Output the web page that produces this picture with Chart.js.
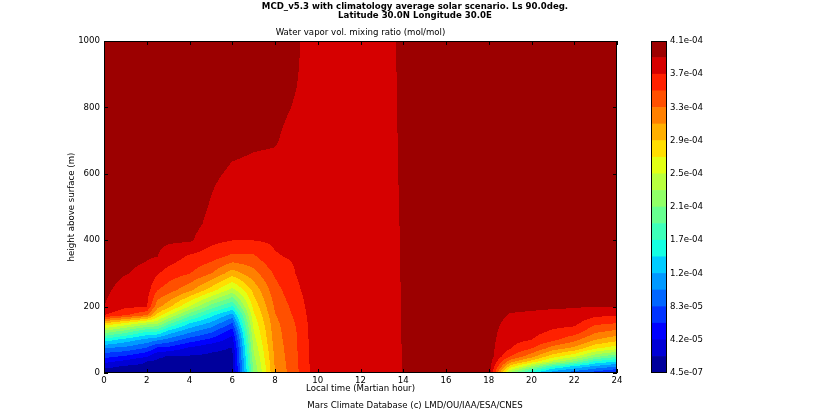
<!DOCTYPE html>
<html>
<head>
<meta charset="utf-8">
<script src="https://cdn.jsdelivr.net/npm/chart.js@4.4.1/dist/chart.umd.min.js"></script>
<style>
  body { margin: 0; background: #fff; }
  #wrap { position: relative; width: 830px; height: 415px; }
  #wrap canvas { position: absolute; left: 0; top: 0; }
</style>
</head>
<body>
<div id="wrap">
  <canvas id="field" width="830" height="415"></canvas>
  <canvas id="cbar" width="830" height="415"></canvas>
</div>
<script>
const titleLines = ['MCD_v5.3 with climatology average solar scenario. Ls 90.0deg.', 'Latitude 30.0N Longitude 30.0E'];
const subtitle = 'Water vapor vol. mixing ratio (mol/mol)';
const footer = 'Mars Climate Database (c) LMD/OU/IAA/ESA/CNES';

// local time (Martian hour) of each profile
const localTimes = [0, 1, 2, 2.5, 3, 4, 5, 6, 7, 8, 9, 10, 11, 12, 13, 14, 15, 16, 17, 18, 19, 20, 21, 22, 23, 24];
// height above surface (m)
const heights = [0, 10, 20, 35, 50, 75, 100, 125, 150, 175, 200, 250, 300, 350, 400, 450, 500, 600, 700, 800, 900, 1000];

// water vapour mixing ratio in ppmv (1e-6 mol/mol), one profile per local time
const waterVapor = [
  [6.7, 16.4, 27.9, 48.6, 69.3, 103.9, 156.8, 220.3, 290.0, 373.0, 393.6, 397.5, 401.6, 403.7, 405.8, 405.8, 405.8, 405.8, 405.8, 405.8, 405.8, 405.8],
  [8.7, 13.7, 18.6, 36.4, 59.4, 97.6, 136.1, 197.5, 266.6, 355.5, 376.4, 385.9, 394.2, 397.5, 401.6, 402.7, 403.7, 405.8, 405.8, 405.8, 405.8, 405.8],
  [10.8, 13.7, 16.8, 21.1, 43.7, 81.1, 118.3, 165.9, 239.7, 334.8, 374.8, 381.8, 389.0, 395.0, 399.2, 402.7, 403.7, 405.8, 405.8, 405.8, 405.8, 405.8],
  [10.8, 12.9, 15.1, 18.2, 23.8, 58.4, 108.0, 165.9, 232.1, 283.8, 317.9, 352.8, 374.5, 393.6, 397.5, 401.6, 403.1, 405.8, 405.8, 405.8, 405.8, 405.8],
  [10.8, 12.6, 14.7, 17.4, 20.3, 55.9, 97.2, 138.6, 194.4, 252.7, 297.4, 341.7, 363.8, 384.7, 396.3, 400.0, 402.0, 404.7, 405.8, 405.8, 405.8, 405.8],
  [10.8, 12.4, 14.1, 16.6, 19.1, 38.3, 73.9, 109.6, 145.2, 196.1, 247.0, 316.9, 353.0, 369.2, 396.5, 401.6, 402.7, 403.7, 405.8, 405.8, 405.8, 405.8],
  [10.8, 12.2, 13.7, 15.8, 18.0, 24.9, 56.7, 88.3, 120.2, 153.9, 197.7, 280.2, 332.2, 361.1, 378.9, 388.2, 391.9, 396.5, 401.6, 403.7, 403.7, 403.7],
  [10.8, 12.0, 13.3, 15.3, 17.2, 20.5, 32.9, 51.7, 81.7, 116.3, 163.8, 240.3, 299.3, 347.0, 373.0, 377.2, 381.8, 390.9, 397.5, 400.6, 402.7, 403.7],
  [207.3, 210.6, 213.6, 218.6, 223.4, 231.4, 239.5, 247.6, 255.6, 265.1, 275.5, 296.2, 323.9, 348.5, 373.1, 377.2, 381.4, 389.6, 395.4, 399.6, 400.6, 401.6],
  [310.7, 311.7, 312.5, 314.0, 315.4, 317.9, 320.4, 322.6, 325.1, 329.9, 334.6, 344.4, 355.1, 371.0, 375.8, 379.1, 382.6, 389.2, 394.4, 396.7, 399.2, 401.6],
  [347.9, 348.1, 348.5, 349.0, 349.4, 350.2, 351.0, 351.8, 354.1, 357.8, 361.3, 368.3, 373.5, 375.4, 377.2, 379.1, 381.0, 384.7, 388.4, 392.3, 394.2, 395.4],
  [385.1, 386.1, 387.2, 388.2, 389.2, 389.2, 389.2, 389.2, 389.2, 389.2, 389.2, 389.2, 389.2, 388.2, 387.2, 387.2, 387.2, 386.1, 385.1, 385.1, 385.1, 385.1],
  [383.0, 383.0, 383.0, 383.0, 383.0, 383.0, 383.0, 383.0, 383.0, 383.0, 383.0, 383.0, 383.0, 383.0, 383.0, 383.0, 383.0, 383.0, 383.0, 383.0, 383.0, 383.0],
  [383.0, 383.0, 383.0, 383.0, 383.0, 383.0, 383.0, 383.0, 383.0, 383.0, 383.0, 383.0, 383.0, 383.0, 383.0, 383.0, 383.0, 383.0, 383.0, 383.0, 383.0, 383.0],
  [383.0, 383.0, 383.0, 383.0, 383.0, 383.0, 383.0, 383.0, 383.0, 383.0, 383.0, 383.0, 383.0, 383.0, 383.0, 383.0, 383.0, 383.0, 383.0, 383.0, 383.0, 383.0],
  [394.0, 394.0, 394.0, 394.2, 394.2, 394.2, 394.4, 394.4, 394.4, 394.6, 394.6, 394.8, 395.0, 395.2, 395.4, 395.6, 396.0, 396.5, 397.1, 397.5, 398.1, 398.8],
  [403.7, 403.7, 403.7, 403.7, 403.7, 403.7, 403.7, 403.7, 403.7, 403.7, 403.7, 403.7, 403.7, 403.7, 403.7, 403.7, 403.7, 403.7, 403.7, 403.7, 403.7, 403.7],
  [403.7, 403.7, 403.7, 403.7, 403.7, 403.7, 403.7, 403.7, 403.7, 403.7, 403.7, 403.7, 403.7, 403.7, 403.7, 403.7, 403.7, 403.7, 403.7, 403.7, 403.7, 403.7],
  [403.7, 403.7, 403.7, 403.7, 403.7, 403.7, 403.7, 403.7, 403.7, 403.7, 403.7, 403.7, 403.7, 403.7, 403.7, 403.7, 403.7, 403.7, 403.7, 403.7, 403.7, 403.7],
  [409.9, 405.8, 405.8, 405.8, 405.8, 400.6, 400.6, 400.6, 400.6, 400.6, 400.6, 403.7, 403.7, 403.7, 403.7, 403.7, 403.7, 403.7, 403.7, 403.7, 403.7, 403.7],
  [217.6, 252.1, 283.2, 321.0, 352.0, 374.5, 378.9, 383.4, 388.0, 392.5, 396.3, 403.7, 403.7, 403.7, 403.7, 403.7, 403.7, 403.7, 403.7, 403.7, 403.7, 403.7],
  [145.2, 186.6, 227.9, 283.2, 318.5, 353.7, 373.1, 379.1, 385.1, 391.1, 395.9, 403.7, 403.7, 403.7, 403.7, 403.7, 403.7, 403.7, 403.7, 403.7, 403.7, 403.7],
  [114.2, 134.9, 171.1, 241.8, 278.2, 322.6, 357.2, 370.2, 379.7, 388.8, 395.4, 403.7, 403.7, 403.7, 403.7, 403.7, 403.7, 403.7, 403.7, 403.7, 403.7, 403.7],
  [89.4, 114.8, 140.0, 207.3, 253.8, 305.3, 337.7, 364.0, 378.1, 387.2, 394.8, 403.7, 403.7, 403.7, 403.7, 403.7, 403.7, 403.7, 403.7, 403.7, 403.7, 403.7],
  [70.8, 95.6, 120.4, 162.4, 212.4, 273.6, 310.7, 335.5, 356.6, 377.7, 393.8, 402.0, 403.7, 403.7, 403.7, 403.7, 403.7, 403.7, 403.7, 403.7, 403.7, 403.7],
  [52.1, 78.8, 105.3, 145.2, 191.7, 256.9, 296.8, 326.2, 352.0, 375.0, 393.6, 402.0, 403.7, 403.7, 403.7, 403.7, 403.7, 403.7, 403.7, 403.7, 403.7, 403.7]
];

// colour bar: 20 filled levels between these bounds (ppmv)
const levelMin = 0.45;
const levelMax = 414.05;
const cbarLabels = ['4.5e-07', '4.2e-05', '8.3e-05', '1.2e-04', '1.7e-04', '2.1e-04', '2.5e-04', '2.9e-04', '3.3e-04', '3.7e-04', '4.1e-04'];
const bandColors = ['#00009c', '#0000d6', '#0000ff', '#0033ff', '#0066ff', '#0099ff', '#00ccff', '#14ffe2', '#3effb9', '#67ff90',
                    '#90ff67', '#b9ff3e', '#e2ff14', '#ffde00', '#ffaf00', '#ff8000', '#ff5000', '#ff2100', '#d60000', '#9c0000'];

const nBands = bandColors.length;
const levelStep = (levelMax - levelMin) / nBands;
const levels = [];
for (let i = 0; i <= nBands; i++) levels.push(levelMin + i * levelStep);

const FONT = 'DejaVu Sans';
const FSIZE = 8.6;
const rgb = bandColors.map(c => [parseInt(c.slice(1, 3), 16), parseInt(c.slice(3, 5), 16), parseInt(c.slice(5, 7), 16)]);

function locate(arr, v) {
    let i = 0;
    while (i < arr.length - 2 && v > arr[i + 1]) i++;
    let f = (v - arr[i]) / (arr[i + 1] - arr[i]);
    return [i, Math.min(1, Math.max(0, f))];
}

// fills the plot area with the banded field, pixel by pixel through the scales
const contourFill = {
    id: 'contourFill',
    beforeDatasetsDraw(chart) {
        const { ctx, chartArea: a, scales: { x, y } } = chart;
        const w = Math.round(a.right - a.left);
        const h = Math.round(a.bottom - a.top);
        const img = ctx.createImageData(w, h);
        const cols = [];
        const rows = [];
        for (let px = 0; px < w; px++) cols.push(locate(localTimes, x.getValueForPixel(a.left + px + 0.5)));
        for (let py = 0; py < h; py++) rows.push(locate(heights, y.getValueForPixel(a.top + py + 0.5)));
        for (let py = 0; py < h; py++) {
            const [j, b] = rows[py];
            for (let px = 0; px < w; px++) {
                const [i, t] = cols[px];
                const v = (1 - t) * (1 - b) * waterVapor[i][j] + t * (1 - b) * waterVapor[i + 1][j]
                        + (1 - t) * b * waterVapor[i][j + 1] + t * b * waterVapor[i + 1][j + 1];
                let k = Math.floor((v - levelMin) / levelStep);
                k = Math.max(0, Math.min(nBands - 1, k));
                const o = (py * w + px) * 4;
                img.data[o] = rgb[k][0];
                img.data[o + 1] = rgb[k][1];
                img.data[o + 2] = rgb[k][2];
                img.data[o + 3] = 255;
            }
        }
        ctx.putImageData(img, a.left, a.top);
    }
};

// frame, inward ticks on all four sides and the figure texts
const frameAndText = {
    id: 'frameAndText',
    afterDraw(chart) {
        const { ctx, chartArea: a, scales: { x, y } } = chart;
        ctx.save();
        ctx.strokeStyle = '#000';
        ctx.lineWidth = 1;
        ctx.strokeRect(a.left + 0.5, a.top + 0.5, a.right - a.left - 1, a.bottom - a.top - 1);
        ctx.beginPath();
        x.ticks.forEach(tk => {
            const px = Math.round(x.getPixelForValue(tk.value)) + 0.5;
            ctx.moveTo(px, a.bottom); ctx.lineTo(px, a.bottom - 4);
            ctx.moveTo(px, a.top); ctx.lineTo(px, a.top + 4);
        });
        y.ticks.forEach(tk => {
            const py = Math.round(y.getPixelForValue(tk.value)) + 0.5;
            ctx.moveTo(a.left, py); ctx.lineTo(a.left + 4, py);
            ctx.moveTo(a.right, py); ctx.lineTo(a.right - 4, py);
        });
        ctx.stroke();

        ctx.fillStyle = '#000';
        ctx.textAlign = 'center';
        ctx.textBaseline = 'alphabetic';
        ctx.font = 'bold ' + FSIZE + 'px "' + FONT + '"';
        ctx.fillText(titleLines[0], 415, 9);
        ctx.fillText(titleLines[1], 415, 18);
        ctx.font = FSIZE + 'px "' + FONT + '"';
        ctx.fillText(subtitle, (a.left + a.right) / 2, 35);
        ctx.fillText(footer, 415, 408);
        ctx.restore();
    }
};

const tickFont = { family: FONT, size: FSIZE };

new Chart(document.getElementById('field'), {
    type: 'scatter',
    data: { datasets: [{ data: [], pointRadius: 0 }] },
    options: {
        responsive: false,
        animation: false,
        events: [],
        layout: { padding: { top: 41, right: 213, left: 0, bottom: 0 } },
        plugins: { legend: { display: false }, tooltip: { enabled: false } },
        scales: {
            x: {
                type: 'linear', min: 0, max: 24,
                grid: { display: false, drawTicks: false },
                border: { display: false },
                ticks: { stepSize: 2, color: '#000', font: tickFont, padding: 3, maxRotation: 0, autoSkip: false, callback: v => String(v) },
                title: { display: true, text: 'Local time (Martian hour)', color: '#000', font: tickFont, padding: { top: 0, bottom: 21 } },
                afterFit: s => { s.height = 42; }
            },
            y: {
                type: 'linear', min: 0, max: 1000,
                grid: { display: false, drawTicks: false },
                border: { display: false },
                ticks: { stepSize: 200, color: '#000', font: tickFont, padding: 4, callback: v => String(v) },
                title: { display: true, text: 'height above surface (m)', color: '#000', font: tickFont, padding: { top: 67, bottom: 0 } },
                afterFit: s => { s.width = 104; }
            }
        }
    },
    plugins: [contourFill, frameAndText]
});

const cbarOutline = {
    id: 'cbarOutline',
    afterDraw(chart) {
        const { ctx, chartArea: a } = chart;
        ctx.save();
        ctx.strokeStyle = '#000';
        ctx.lineWidth = 1;
        ctx.strokeRect(a.left + 0.5, a.top + 0.5, a.right - a.left - 1, a.bottom - a.top - 1);
        ctx.restore();
    }
};

new Chart(document.getElementById('cbar'), {
    type: 'bar',
    data: {
        labels: [''],
        datasets: bandColors.map((c, i) => ({
            data: [[levels[i], levels[i + 1]]],
            backgroundColor: c,
            borderWidth: 0,
            barPercentage: 1,
            categoryPercentage: 1,
            grouped: false
        }))
    },
    options: {
        responsive: false,
        animation: false,
        events: [],
        layout: { padding: { left: 651, top: 41, right: 0, bottom: 42 } },
        plugins: { legend: { display: false }, tooltip: { enabled: false } },
        scales: {
            x: { display: false },
            y: {
                position: 'right',
                min: levels[0], max: levels[nBands],
                grid: { display: false, drawTicks: false },
                border: { display: false },
                afterBuildTicks: s => { s.ticks = levels.filter((v, i) => i % 2 === 0).map(v => ({ value: v })); },
                ticks: { color: '#000', font: tickFont, padding: 3, callback: (v, i) => cbarLabels[i] },
                afterFit: s => { s.width = 163; }
            }
        }
    },
    plugins: [cbarOutline]
});
</script>
</body>
</html>
